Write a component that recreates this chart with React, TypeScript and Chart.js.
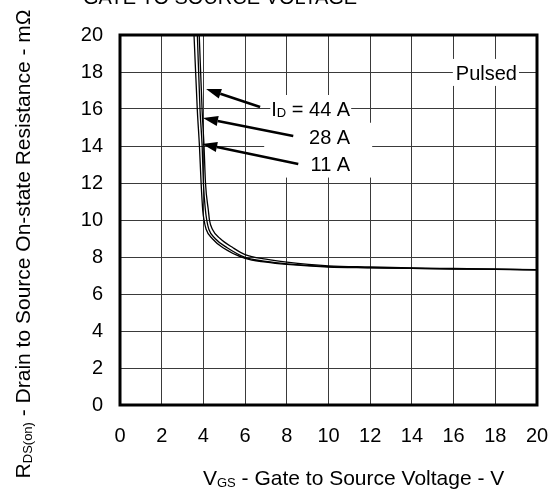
import { useEffect, useRef } from "react";
import { Chart, registerables } from "chart.js";

Chart.register(...registerables);

// V_GS (V) and R_DS(on) (mΩ), per drain current
const vgs11 = [3.55, 3.71, 3.81, 3.89, 3.97, 4.03, 4.13, 4.42, 4.94, 6, 7, 8, 10, 12, 14, 16, 18, 20];
const r11 = [20, 15.9, 14, 12, 10.5, 10, 9.5, 9, 8.5, 7.92, 7.72, 7.6, 7.46, 7.42, 7.38, 7.35, 7.33, 7.3];
const vgs28 = [3.71, 3.84, 3.94, 4.0, 4.1, 4.16, 4.26, 4.56, 5.14, 6, 7, 8, 10, 12, 14, 16, 18, 20];
const r28 = [20, 15.9, 14, 12, 10.5, 10, 9.5, 9, 8.5, 7.98, 7.76, 7.63, 7.48, 7.43, 7.39, 7.36, 7.34, 7.31];
const vgs44 = [3.8, 3.94, 4.03, 4.1, 4.24, 4.29, 4.43, 4.8, 5.42, 6, 7, 8, 10, 12, 14, 16, 18, 20];
const r44 = [20, 15.9, 14, 12, 10.5, 10, 9.5, 9, 8.5, 8.13, 7.88, 7.72, 7.52, 7.46, 7.41, 7.38, 7.35, 7.32];

// annotation labels (data coordinates)
const labelTexts = [
  [{ t: "I" }, { t: "D", sub: true }, { t: " = 44 A" }],
  [{ t: "28 A" }],
  [{ t: "11 A" }],
];
const labelRightX = 11.04;
const labelY = [16, 14.5, 13.05];
const arrowTailX = [6.72, 8.31, 8.55];
const arrowTailY = [16.11, 14.54, 13.03];
const arrowHeadX = [4.13, 3.98, 3.94];
const arrowHeadY = [17.08, 15.51, 14.11];
const pulsedText = "Pulsed";
const pulsedX = 19.04;
const pulsedY = 17.95;

const titleText = "GATE TO SOURCE VOLTAGE";
const xTitle = [{ t: "V" }, { t: "GS", sub: true }, { t: " - Gate to Source Voltage - V" }];
const yTitle = [
  { t: "R" },
  { t: "DS(on)", sub: true },
  { t: " - Drain to Source On-state Resistance - mΩ" },
];

const FONT = '"Liberation Sans", Arial, Helvetica, sans-serif';

type Part = { t: string; sub?: boolean };

function richWidth(ctx: CanvasRenderingContext2D, parts: Part[], size: number, subSize: number) {
  let w = 0;
  for (const p of parts) {
    ctx.font = `${p.sub ? subSize : size}px ${FONT}`;
    w += ctx.measureText(p.t).width;
  }
  return w;
}

function drawRich(
  ctx: CanvasRenderingContext2D,
  parts: Part[],
  x: number,
  y: number,
  size: number,
  subSize: number,
  drop: number
) {
  let cx = x;
  ctx.textAlign = "left";
  ctx.textBaseline = "alphabetic";
  for (const p of parts) {
    ctx.font = `${p.sub ? subSize : size}px ${FONT}`;
    ctx.fillText(p.t, cx, y + (p.sub ? drop : 0));
    cx += ctx.measureText(p.t).width;
  }
}

function drawArrow(ctx: CanvasRenderingContext2D, x1: number, y1: number, x2: number, y2: number) {
  const ang = Math.atan2(y2 - y1, x2 - x1);
  const headLen = 15;
  const headHalf = 5;
  const bx = x2 - headLen * Math.cos(ang);
  const by = y2 - headLen * Math.sin(ang);
  ctx.strokeStyle = "#000";
  ctx.fillStyle = "#000";
  ctx.lineWidth = 2.6;
  ctx.beginPath();
  ctx.moveTo(x1, y1);
  ctx.lineTo(bx, by);
  ctx.stroke();
  ctx.beginPath();
  ctx.moveTo(x2, y2);
  ctx.lineTo(bx + headHalf * Math.sin(ang), by - headHalf * Math.cos(ang));
  ctx.lineTo(bx - headHalf * Math.sin(ang), by + headHalf * Math.cos(ang));
  ctx.closePath();
  ctx.fill();
}

const decorPlugin = {
  id: "decor",
  afterDatasetsDraw(chart: any) {
    const ctx: CanvasRenderingContext2D = chart.ctx;
    const xs = chart.scales.x;
    const ys = chart.scales.y;
    const area = chart.chartArea;
    ctx.save();

    // labels with white backgrounds
    const size = 20;
    labelTexts.forEach((parts, i) => {
      const w = richWidth(ctx, parts, size, 13);
      const right = xs.getPixelForValue(labelRightX);
      const cy = ys.getPixelForValue(labelY[i]);
      const left = right - w;
      const boxL = i === 0 ? left - 1 : right - 86;
      const boxR = i === 0 ? right + 1 : right + 22;
      ctx.fillStyle = "#fff";
      ctx.fillRect(boxL, cy - 14, boxR - boxL, 28);
      ctx.fillStyle = "#000";
      drawRich(ctx, parts, left, cy + 7, size, 13, 1);
    });

    // Pulsed
    ctx.font = `${size}px ${FONT}`;
    const pw = ctx.measureText(pulsedText).width;
    const pr = xs.getPixelForValue(pulsedX);
    const pc = ys.getPixelForValue(pulsedY);
    ctx.fillStyle = "#fff";
    ctx.fillRect(pr - pw - 3, pc - 14, pw + 5, 27);
    ctx.fillStyle = "#000";
    ctx.textAlign = "right";
    ctx.textBaseline = "alphabetic";
    ctx.fillText(pulsedText, pr, pc + 7);

    // arrows
    for (let i = 0; i < arrowTailX.length; i++) {
      drawArrow(
        ctx,
        xs.getPixelForValue(arrowTailX[i]),
        ys.getPixelForValue(arrowTailY[i]),
        xs.getPixelForValue(arrowHeadX[i]),
        ys.getPixelForValue(arrowHeadY[i])
      );
    }

    // thick frame
    ctx.strokeStyle = "#000";
    ctx.lineWidth = 3;
    ctx.strokeRect(area.left, area.top, area.right - area.left, area.bottom - area.top);
    ctx.restore();
  },
  afterDraw(chart: any) {
    const ctx: CanvasRenderingContext2D = chart.ctx;
    const area = chart.chartArea;
    ctx.save();
    ctx.fillStyle = "#000";
    // clipped title at top
    ctx.font = `20px ${FONT}`;
    ctx.textAlign = "left";
    ctx.textBaseline = "alphabetic";
    ctx.fillText(titleText, area.left - 37, 4);

    // x axis title
    drawRich(ctx, xTitle, area.left + 83, 485, 21, 13, 2);

    // y axis title (rotated)
    const yw = richWidth(ctx, yTitle, 21, 13);
    ctx.translate(30, 244);
    ctx.rotate(-Math.PI / 2);
    drawRich(ctx, yTitle, -yw / 2, 0, 21, 13, 2);
    ctx.restore();
  },
};

export default function App() {
  const ref = useRef<HTMLCanvasElement | null>(null);

  useEffect(() => {
    document.body.style.margin = "0";
    const canvas = ref.current;
    if (!canvas) return;
    const mk = (xs: number[], ys: number[]) => xs.map((x, i) => ({ x, y: ys[i] }));
    const ds = (label: string, xs: number[], ys: number[]) => ({
      label,
      data: mk(xs, ys),
      showLine: true,
      borderColor: "#000",
      borderWidth: 1.3,
      pointRadius: 0,
      fill: false,
      cubicInterpolationMode: "monotone" as const,
    });
    const chart = new Chart(canvas, {
      type: "scatter",
      data: {
        datasets: [ds("11 A", vgs11, r11), ds("28 A", vgs28, r28), ds("44 A", vgs44, r44)],
      },
      options: {
        animation: false,
        responsive: false,
        devicePixelRatio: 1,
        layout: { padding: { top: 35, right: 23, left: 0, bottom: 0 } },
        plugins: { legend: { display: false }, tooltip: { enabled: false }, title: { display: false } },
        scales: {
          x: {
            type: "linear",
            min: 0,
            max: 20,
            border: { display: false },
            grid: { color: "#3a3a3a", lineWidth: 1, drawTicks: false },
            ticks: {
              stepSize: 2,
              padding: 19,
              color: "#000",
              font: { family: FONT, size: 20 },
            },
            afterFit: (s: any) => {
              s.height = 85;
              s.paddingLeft = 0;
              s.paddingRight = 0;
            },
          },
          y: {
            type: "linear",
            min: 0,
            max: 20,
            border: { display: false },
            grid: { color: "#3a3a3a", lineWidth: 1, drawTicks: false },
            ticks: {
              stepSize: 2,
              padding: 17,
              color: "#000",
              font: { family: FONT, size: 20 },
            },
            afterFit: (s: any) => {
              s.width = 120;
              s.paddingTop = 0;
              s.paddingBottom = 0;
            },
          },
        },
      },
      plugins: [decorPlugin],
    });
    return () => chart.destroy();
  }, []);

  return <canvas ref={ref} width={560} height={490} style={{ display: "block" }} />;
}
